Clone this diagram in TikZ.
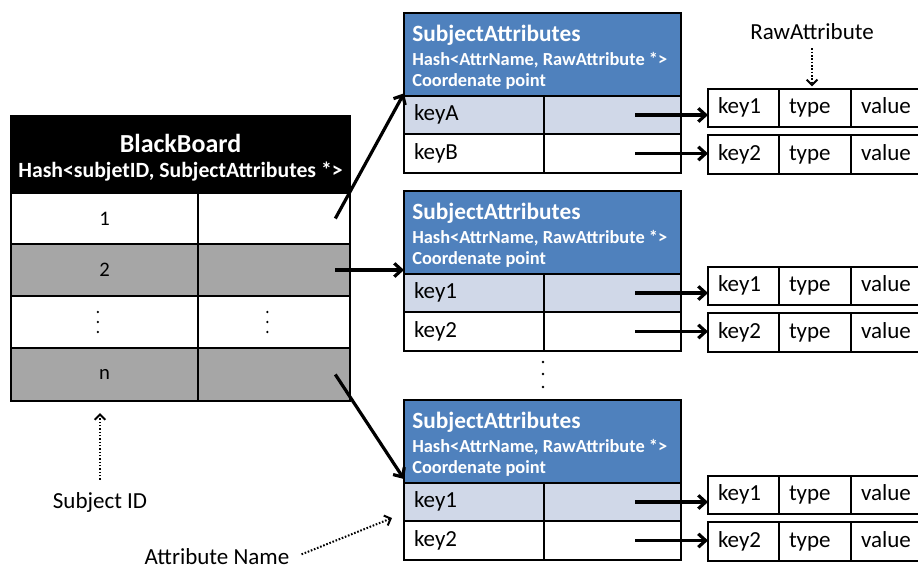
\documentclass[tikz,border=0pt]{standalone}
\usepackage{fontspec}
\setmainfont{Carlito}
\usetikzlibrary{arrows.meta}
\definecolor{sablue}{HTML}{4F81BD}
\definecolor{sarow}{HTML}{D0D8E8}
\definecolor{bbgray}{HTML}{A6A6A6}
\newcommand{\ccell}[7]{%
  \pgfmathsetmacro\cw{(#4-#2)*0.75}\pgfmathsetmacro\ch{(#5-#3)*0.75}%
  \node[#1, anchor=north west, minimum width=\cw pt, minimum height=\ch pt] (#6) at (#2,#3) {#7};}
\newcommand{\lcell}[7]{%
  \pgfmathsetmacro\cw{(#4-#2)*0.75}\pgfmathsetmacro\ch{(#5-#3)*0.75}\pgfmathsetmacro\tw{(#4-#2)*0.75-15}%
  \node[#1, anchor=north west, minimum width=\cw pt, minimum height=\ch pt, text width=\tw pt, inner xsep=7.5pt, align=left] (#6) at (#2,#3) {#7};}
\newcommand{\sablock}[4]{%
  \pgfmathsetmacro\ta{#2}\pgfmathsetmacro\tb{#2+83}\pgfmathsetmacro\tc{#2+121}\pgfmathsetmacro\td{#2+160}%
  \pgfmathsetmacro\ra{#2+76}\pgfmathsetmacro\rb{#2+114}\pgfmathsetmacro\rc{#2+122}\pgfmathsetmacro\rd{#2+161}%
  \ccell{cellbox,fill=sablue}{404}{\ta}{681}{\tb}{#1h}{}
  \node[satitle, anchor=west] (#1t) at (412,{#2+22}) {SubjectAttributes};
  \node[sasub, anchor=west] (#1s) at (412,{#2+47}) {Hash<AttrName, RawAttribute *>};
  \node[sasub, anchor=west] (#1c) at (412,{#2+68}) {Coordenate point};
  \lcell{cellbox,fill=sarow,txt}{404}{\tb}{544}{\tc}{#1k1a}{#3}
  \ccell{cellbox,fill=sarow}{544}{\tb}{681}{\tc}{#1k1b}{}
  \lcell{cellbox,fill=white,txt}{404}{\tc}{544}{\td}{#1k2a}{#4}
  \ccell{cellbox,fill=white}{544}{\tc}{681}{\td}{#1k2b}{}
  \lcell{cellbox,txt}{708}{\ra}{779}{\rb}{#1r1a}{key1}
  \lcell{cellbox,txt}{779}{\ra}{851}{\rb}{#1r1b}{type}
  \lcell{cellbox,txt}{851}{\ra}{922}{\rb}{#1r1c}{value}
  \lcell{cellbox,txt}{708}{\rc}{779}{\rd}{#1r2a}{key2}
  \lcell{cellbox,txt}{779}{\rc}{851}{\rd}{#1r2b}{type}
  \lcell{cellbox,txt}{851}{\rc}{922}{\rd}{#1r2c}{value}
  \path ([xshift=17pt]#1k1b.center) coordinate (#1p1) ([xshift=17pt]#1k2b.center) coordinate (#1p2);
  \draw[arr] (#1p1) -- (#1p1 -| #1r1a.west);
  \draw[arr] (#1p2) -- (#1p2 -| #1r2a.west);
}
\begin{document}
\begin{tikzpicture}[x=0.75pt,y=-0.75pt,
  cellbox/.style={draw=black, line width=1.6pt, inner sep=0pt, outer sep=0pt},
  txt/.style={font=\fontsize{17.25}{20}\selectfont, text height=12pt, text depth=3.5pt},
  num/.style={font=\fontsize{15.5}{18}\selectfont},
  bbtitle/.style={font=\fontsize{19.5}{22}\selectfont\bfseries, text=white, inner sep=0pt},
  bbsub/.style={font=\fontsize{16.3}{19}\selectfont\bfseries, text=white, inner sep=0pt},
  satitle/.style={font=\fontsize{17.5}{20}\selectfont\bfseries, text=white, inner sep=0pt},
  sasub/.style={font=\fontsize{13.8}{16}\selectfont\bfseries, text=white, inner sep=0pt},
  lbl/.style={font=\fontsize{17.25}{20}\selectfont, inner sep=0pt},
  arr/.style={line width=2.4pt, -{Straight Barb[length=5.5pt,width=10pt]}},
  dotarr/.style={line width=1.5pt, dash pattern=on 1.2pt off 1.3pt, -{Straight Barb[length=4pt,width=8pt]}}
]
\useasboundingbox (0,0) rectangle (918,572);
\clip (0,0) rectangle (918,572);
% BlackBoard
\ccell{cellbox,fill=black}{11}{116}{350}{193}{bbh}{}
\node[bbtitle] (bbt) at (180.5,143) {BlackBoard};
\node[bbsub] (bbs) at (180.5,172) {Hash<subjetID, SubjectAttributes *>};
\ccell{cellbox,fill=white,num}{11}{193}{198}{244}{bb1a}{1}
\ccell{cellbox,fill=white}{198}{193}{350}{244}{bb1b}{}
\ccell{cellbox,fill=bbgray,num}{11}{244}{198}{296}{bb2a}{2}
\ccell{cellbox,fill=bbgray}{198}{244}{350}{296}{bb2b}{}
\ccell{cellbox,fill=white}{11}{296}{198}{348}{bb3a}{}
\ccell{cellbox,fill=white}{198}{296}{350}{348}{bb3b}{}
\ccell{cellbox,fill=bbgray,num}{11}{348}{198}{401}{bb4a}{n}
\ccell{cellbox,fill=bbgray}{198}{348}{350}{401}{bb4b}{}
\foreach \d in {-10,0,10}{
  \fill ([xshift=-5pt,yshift=\d*0.75pt]bb3a.center) circle (0.95pt);
  \fill ([xshift=-5pt,yshift=\d*0.75pt]bb3b.center) circle (0.95pt);
}
% SubjectAttributes blocks
\sablock{sa1}{13}{keyA}{keyB}
\sablock{sa2}{191}{key1}{key2}
\sablock{sa3}{400}{key1}{key2}
% dots between blocks
\foreach \yy in {362,374,387}{ \fill (543,\yy) circle (1.1pt); }
% BlackBoard to SubjectAttributes
\path ([xshift=46pt]bb1b.center) coordinate (s1)
      ([xshift=46pt]bb2b.center) coordinate (s2)
      ([xshift=46pt]bb4b.center) coordinate (s3);
\draw[arr] (s1) -- ([yshift=2pt]sa1h.south west);
\draw[arr] (s2) -- (s2 -| sa2h.west);
\draw[arr] (s3) -- ([yshift=3pt]sa3h.south west);
% labels
\node[lbl] (rawl) at (812,32) {RawAttribute};
\draw[dotarr] ([yshift=-6pt]rawl.south) -- ([yshift=2pt]rawl.south |- sa1r1b.north);
\node[lbl] (sid) at (100,502) {Subject ID};
\draw[dotarr] ([yshift=9pt]sid.north) -- ([yshift=-9pt]sid.north |- bb4a.south);
\node[lbl] (an) at (217,557) {Attribute Name};
\draw[dotarr] ([xshift=9pt,yshift=2pt]an.east) -- ([xshift=-9pt,yshift=-12pt]sa3k1a.west);
\end{tikzpicture}
\end{document}
